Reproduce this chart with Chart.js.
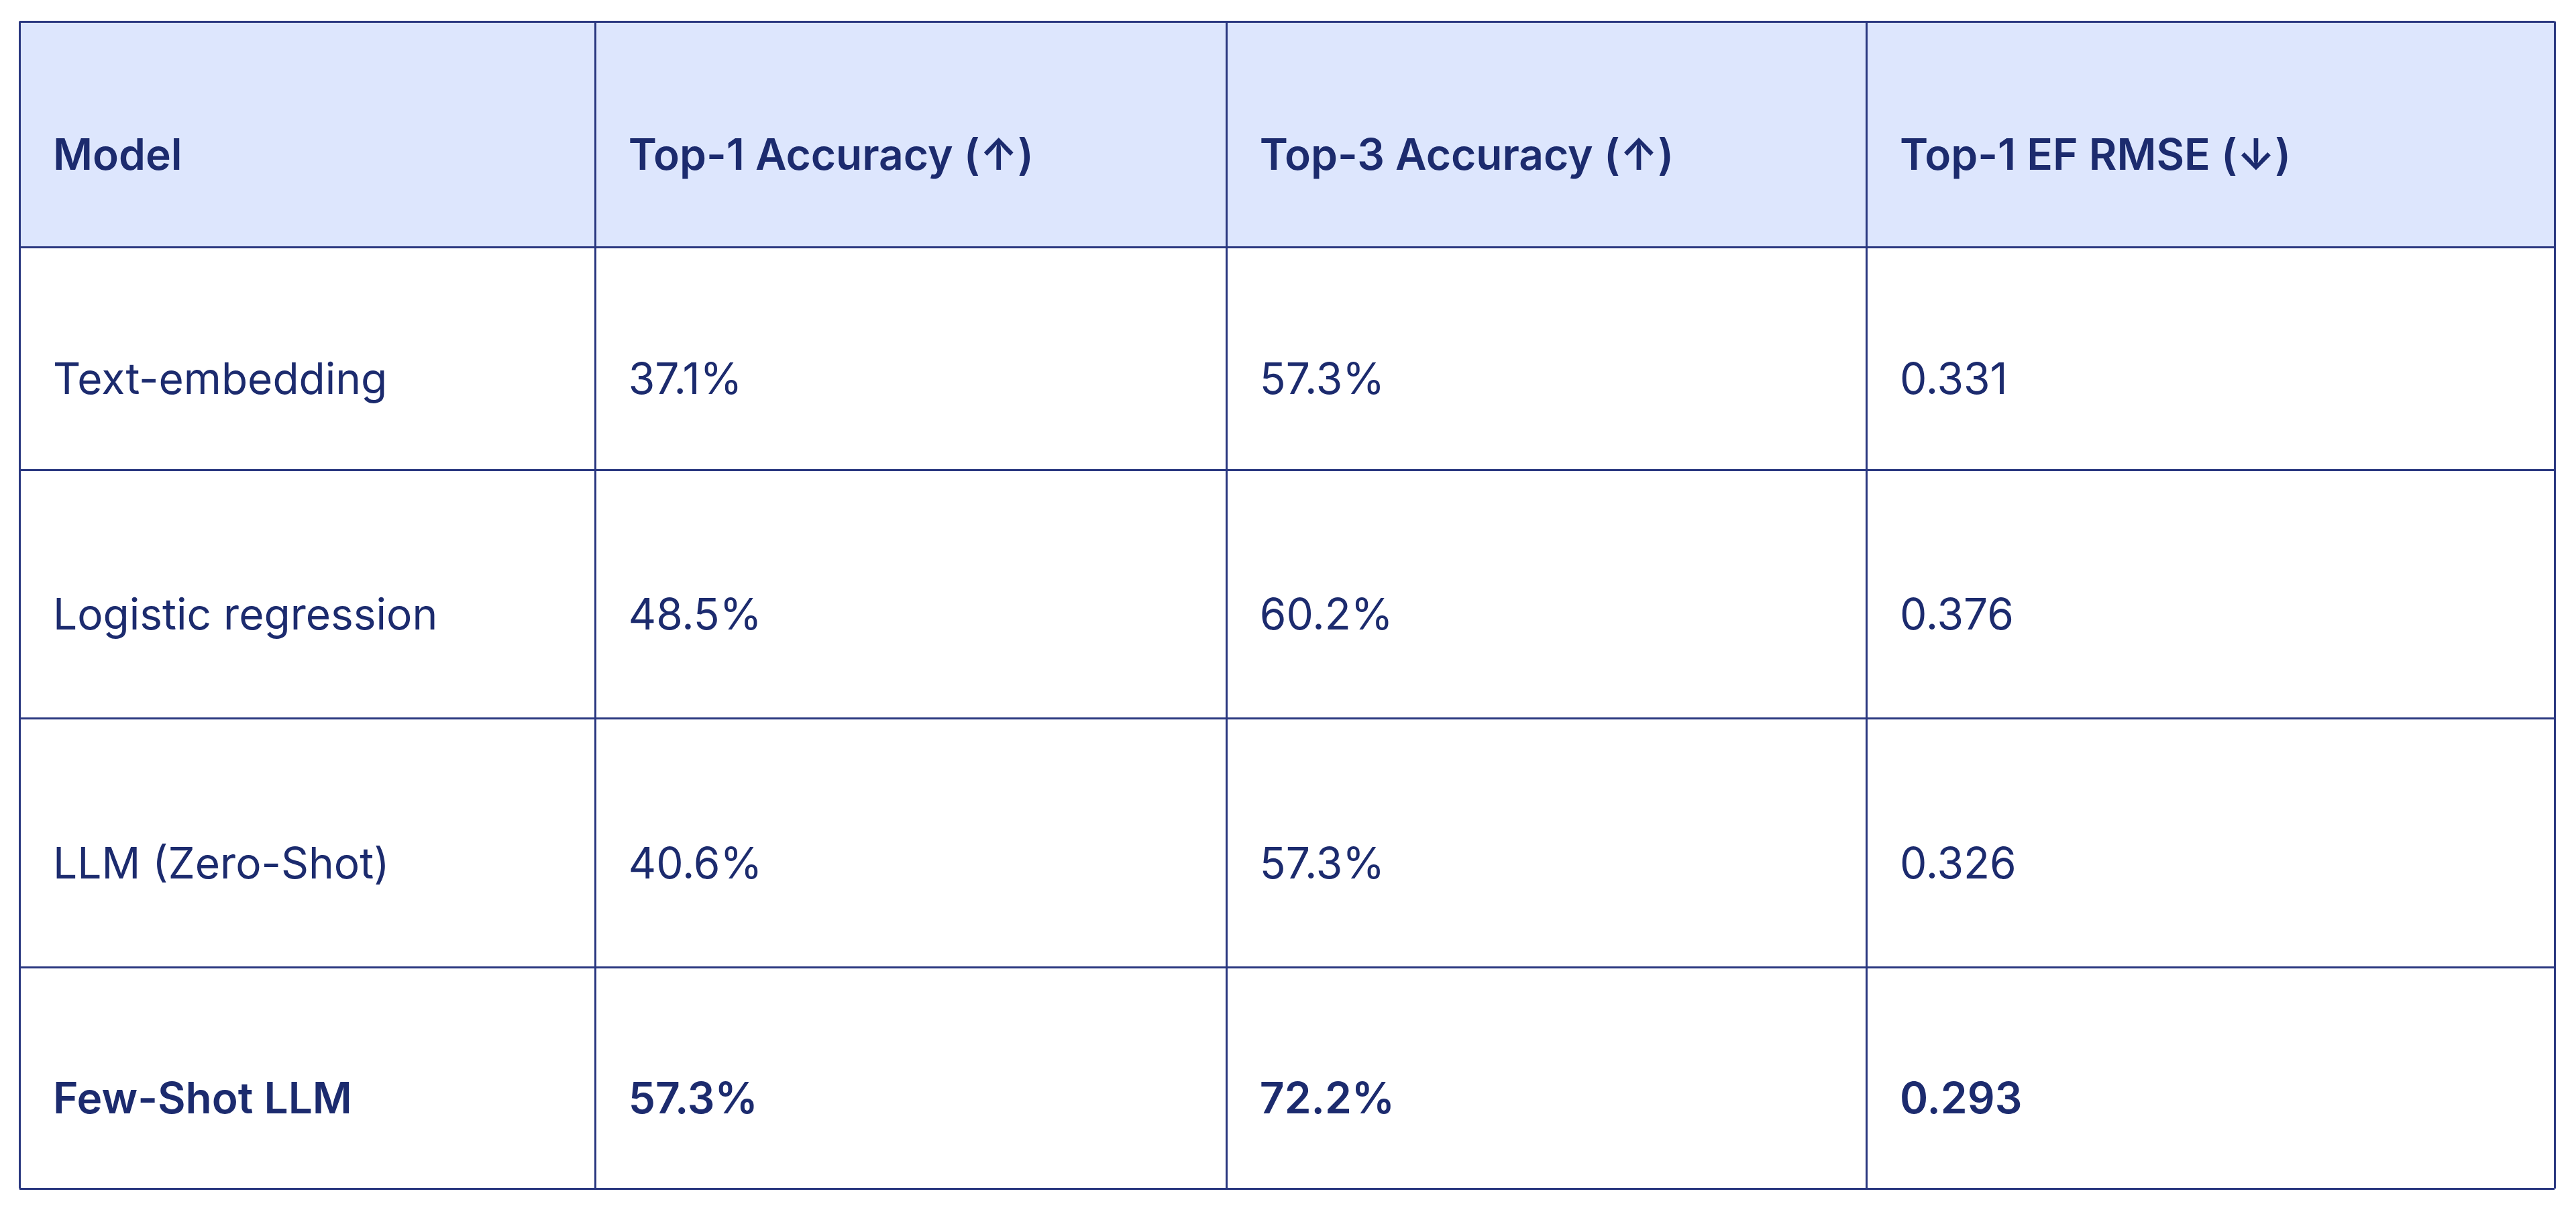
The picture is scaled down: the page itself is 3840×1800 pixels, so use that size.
<!DOCTYPE html>
<html>
<head>
<meta charset="utf-8">
<script src="https://cdn.jsdelivr.net/npm/chart.js@4"></script>
<style>
  html, body { margin: 0; padding: 0; background: #ffffff; }
  canvas { display: block; }
</style>
</head>
<body>
<canvas id="tableChart" width="3840" height="1800"></canvas>
<script>
// table contents
const headers = ['Model', 'Top-1 Accuracy (↑)', 'Top-3 Accuracy (↑)', 'Top-1 EF RMSE (↓)'];
const models = ['Text-embedding', 'Logistic regression', 'LLM (Zero-Shot)', 'Few-Shot LLM'];
const top1Accuracy = ['37.1%', '48.5%', '40.6%', '57.3%'];
const top3Accuracy = ['57.3%', '60.2%', '57.3%', '72.2%'];
const efRmse = ['0.331', '0.376', '0.326', '0.293'];
const boldRows = [3];

// layout of the grid (fractions of table width / height)
const colEdges = [0, 0.227, 0.476, 0.7285, 1];
const rowEdges = [0, 0.193, 0.384, 0.597, 0.810, 1];

const NAVY = '#1c2b6e';
const BORDER = '#2a3880';
const HEADER_BG = '#dde6fd';
const FONT = 'Inter, "Noto Sans", sans-serif';

const tablePlugin = {
    id: 'tablePlugin',
    afterDraw(chart) {
        const ctx = chart.ctx;
        const x = chart.scales.x;
        const y = chart.scales.y;
        const rows = [headers].concat(models.map((m, i) => [m, top1Accuracy[i], top3Accuracy[i], efRmse[i]]));

        ctx.save();
        // header background
        ctx.fillStyle = HEADER_BG;
        ctx.fillRect(x.getPixelForValue(0), y.getPixelForValue(rowEdges[0]),
            x.getPixelForValue(1) - x.getPixelForValue(0),
            y.getPixelForValue(rowEdges[1]) - y.getPixelForValue(rowEdges[0]));

        // text
        ctx.fillStyle = NAVY;
        ctx.textBaseline = 'middle';
        ctx.textAlign = 'left';
        rows.forEach((row, r) => {
            const bold = r === 0 || boldRows.includes(r - 1);
            ctx.font = (bold ? '600 ' : '400 ') + '64px ' + FONT;
            const cy = (y.getPixelForValue(rowEdges[r]) + y.getPixelForValue(rowEdges[r + 1])) / 2 + 34;
            row.forEach((txt, c) => {
                ctx.fillText(txt, x.getPixelForValue(colEdges[c]) + 50, cy);
            });
        });

        // grid lines
        ctx.strokeStyle = BORDER;
        ctx.lineWidth = 3;
        ctx.beginPath();
        colEdges.forEach(v => {
            const px = Math.round(x.getPixelForValue(v)) + 0.5;
            ctx.moveTo(px, y.getPixelForValue(0));
            ctx.lineTo(px, y.getPixelForValue(1));
        });
        rowEdges.forEach(v => {
            const py = Math.round(y.getPixelForValue(v)) + 0.5;
            ctx.moveTo(x.getPixelForValue(0), py);
            ctx.lineTo(x.getPixelForValue(1), py);
        });
        ctx.stroke();
        ctx.restore();
    }
};

new Chart(document.getElementById('tableChart').getContext('2d'), {
    type: 'scatter',
    data: { datasets: [] },
    options: {
        responsive: false,
        animation: false,
        devicePixelRatio: 1,
        layout: { padding: { left: 29, right: 32, top: 32, bottom: 29 } },
        plugins: { legend: { display: false }, tooltip: { enabled: false } },
        scales: {
            x: { type: 'linear', min: 0, max: 1, display: false },
            y: { type: 'linear', min: 0, max: 1, reverse: true, display: false }
        }
    },
    plugins: [tablePlugin]
});
</script>
</body>
</html>
